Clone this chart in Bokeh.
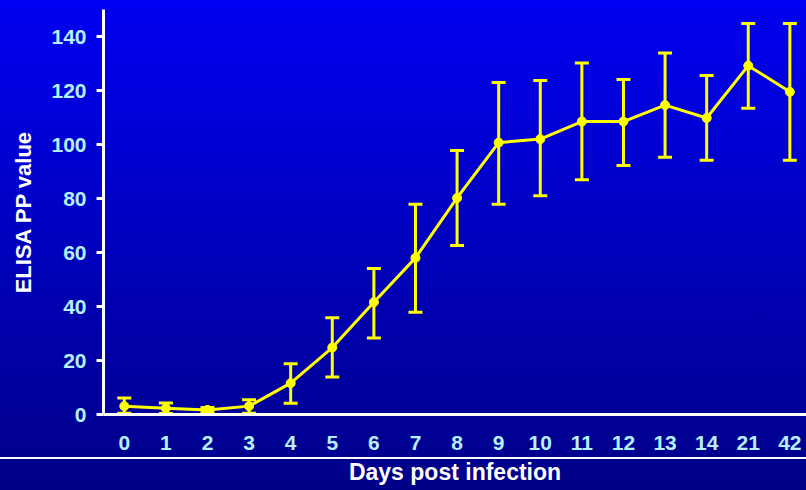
from bokeh.plotting import figure
from bokeh.models import ColumnDataSource, Whisker, TeeHead, FixedTicker
from bokeh.embed import file_html
from bokeh.resources import INLINE

days = ["0", "1", "2", "3", "4", "5", "6", "7", "8", "9", "10", "11", "12", "13", "14", "21", "42"]
mean = [3.1, 2.3, 1.7, 3.1, 11.6, 24.8, 41.6, 58.0, 80.2, 100.7, 102.0, 108.5, 108.5, 114.6, 109.8, 129.2, 119.5]
upper = [6.1, 4.3, 2.6, 5.5, 18.8, 35.8, 54.1, 77.9, 97.8, 123.0, 123.7, 130.2, 124.1, 133.9, 125.6, 144.8, 144.8]
lower = [0.5, 0.4, 0.8, 0.5, 4.2, 13.9, 28.3, 37.9, 62.6, 77.9, 81.0, 86.9, 92.2, 95.3, 94.2, 113.4, 94.2]
y_ticks = [0, 20, 40, 60, 80, 100, 120, 140]

pos = list(range(len(days)))
src = ColumnDataSource(dict(x=pos, y=mean, upper=upper, lower=lower))

YELLOW = "#ffff00"
TICK_COLOR = "#b4f0ff"
FONT = "Liberation Sans"

p = figure(width=806, height=490, output_backend="svg", toolbar_location=None,
           x_range=(-0.5, 16.4), y_range=(0, 150),
           min_border_left=103, min_border_right=0, min_border_top=9, min_border_bottom=76)
p.border_fill_alpha = 0
p.background_fill_alpha = 0
p.outline_line_color = None
p.grid.visible = False
p.styles = {
    "background": "linear-gradient(to bottom, transparent 457px, #ffffff 457px, #ffffff 459px, transparent 459px), "
                  "linear-gradient(to bottom, #0000f2 0%, #000088 100%)"
}

w = Whisker(source=src, base="x", upper="upper", lower="lower", line_color=YELLOW, line_width=3,
            upper_head=TeeHead(size=14, line_color=YELLOW, line_width=3),
            lower_head=TeeHead(size=14, line_color=YELLOW, line_width=3))
p.add_layout(w)
p.line("x", "y", source=src, line_color=YELLOW, line_width=3)
p.scatter("x", "y", source=src, size=9, fill_color=YELLOW, line_color=YELLOW)

xa = p.xaxis[0]
xa.ticker = FixedTicker(ticks=pos)
xa.major_label_overrides = {i: d for i, d in enumerate(days)}
xa.major_tick_out = 0
xa.major_tick_in = 0
xa.minor_tick_line_color = None
xa.axis_line_color = "white"
xa.axis_line_width = 3
xa.major_label_text_color = TICK_COLOR
xa.major_label_text_font = FONT
xa.major_label_text_font_style = "bold"
xa.major_label_text_font_size = "21px"
xa.major_label_standoff = 21
xa.axis_label = "Days post infection"
xa.axis_label_text_color = "white"
xa.axis_label_text_font = FONT
xa.axis_label_text_font_style = "bold"
xa.axis_label_text_font_size = "23px"
xa.axis_label_standoff = 6

ya = p.yaxis[0]
ya.ticker = FixedTicker(ticks=y_ticks)
ya.major_tick_out = 7
ya.major_tick_in = 0
ya.major_tick_line_color = "white"
ya.major_tick_line_width = 3
ya.minor_tick_line_color = None
ya.axis_line_color = "white"
ya.axis_line_width = 3
ya.major_label_text_color = TICK_COLOR
ya.major_label_text_font = FONT
ya.major_label_text_font_style = "bold"
ya.major_label_text_font_size = "21px"
ya.major_label_standoff = 10
ya.axis_label = "ELISA PP value"
ya.axis_label_text_color = "white"
ya.axis_label_text_font = FONT
ya.axis_label_text_font_style = "bold"
ya.axis_label_text_font_size = "22px"
ya.axis_label_standoff = 12

open("out.html", "w").write(file_html(p, INLINE))
